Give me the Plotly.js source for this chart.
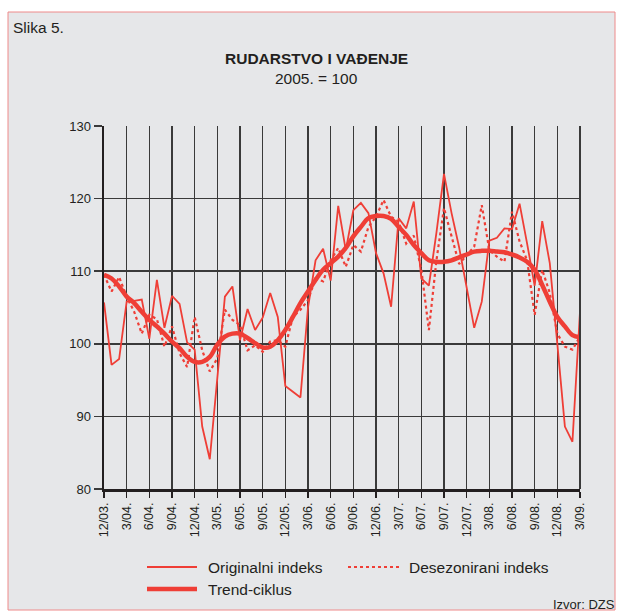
<!DOCTYPE html>
<html>
<head>
<meta charset="utf-8">
<script src="https://cdn.plot.ly/plotly-3.0.1.min.js"></script>
<style>
  body { margin: 0; background: #ffffff; }
  #chart { width: 620px; height: 612px; }
</style>
</head>
<body>
<div id="chart"></div>
<script>
// monthly, 12/03 .. 3/09
var months = [
  "12/03",
  "1/04","2/04","3/04","4/04","5/04","6/04","7/04","8/04","9/04","10/04","11/04","12/04",
  "1/05","2/05","3/05","4/05","5/05","6/05","7/05","8/05","9/05","10/05","11/05","12/05",
  "1/06","2/06","3/06","4/06","5/06","6/06","7/06","8/06","9/06","10/06","11/06","12/06",
  "1/07","2/07","3/07","4/07","5/07","6/07","7/07","8/07","9/07","10/07","11/07","12/07",
  "1/08","2/08","3/08","4/08","5/08","6/08","7/08","8/08","9/08","10/08","11/08","12/08",
  "1/09","2/09","3/09"
];

var tickMonths = ["12/03","3/04","6/04","9/04","12/04","3/05","6/05","9/05","12/05","3/06","6/06",
  "9/06","12/06","3/07","6/07","9/07","12/07","3/08","6/08","9/08","12/08","3/09"];

var originalni = [
  105.7, 97.1, 97.9, 105.8, 105.9, 106.1, 100.7, 108.8, 102.2, 106.6, 105.5, 100.2,
  99.2, 88.6, 84.1, 95.5, 106.5, 107.9, 100.5, 104.8, 101.9, 103.6, 107.0, 103.7,
  94.2, 93.4, 92.6, 105.0, 111.5, 113.1, 108.7, 119.0, 112.9, 118.4, 119.4, 118.0,
  112.5, 109.7, 105.1, 117.3, 115.9, 119.6, 109.0, 108.0, 115.3, 123.4, 118.0, 113.3,
  107.9, 102.2, 105.8, 114.2, 114.6, 115.9, 115.8, 119.3, 113.8, 108.0, 116.9, 111.1,
  100.0, 88.6, 86.5, 104.4
];

var desezonirani = [
  109.5, 107.2, 109.2, 106.5, 104.4, 101.4, 104.0, 103.4, 99.6, 102.4, 98.7, 96.8,
  103.7, 99.1, 96.2, 98.0, 104.7, 103.3, 102.6, 99.1, 99.8, 98.9, 100.3, 100.5,
  99.6, 103.7, 104.7, 106.0, 109.0, 108.6, 111.5, 113.2, 110.6, 113.6, 112.7, 116.1,
  117.5, 119.8, 117.5, 116.8, 113.8, 114.9, 110.2, 101.9, 111.5, 118.7, 114.8, 111.0,
  112.2, 113.4, 119.1, 112.9, 112.0, 111.3, 118.2, 114.1, 111.5, 104.0, 110.2, 107.0,
  101.4, 99.6, 99.2, 101.0
];

var trend = [
  109.5, 109.0, 107.9, 106.5, 105.6, 104.4, 103.3, 102.4, 101.4, 100.3, 99.4, 98.2,
  97.5, 97.5, 98.2, 99.9, 101.0, 101.4, 101.4, 100.8, 100.1, 99.5, 99.6, 100.5,
  101.9, 103.7, 105.6, 107.2, 108.8, 110.2, 111.1, 112.0, 113.2, 114.8, 116.1, 117.3,
  117.6, 117.6, 117.2, 116.1, 115.0, 113.6, 112.5, 111.5, 111.3, 111.3, 111.5, 111.9,
  112.3, 112.7, 112.8, 112.8, 112.7, 112.6, 112.3, 111.9, 111.3, 110.2, 108.1, 105.8,
  103.7, 102.4, 101.2, 100.9
];

var seriesNames = ["Originalni indeks", "Desezonirani indeks", "Trend-ciklus"];

var red = "#ef3e36";
var W = 620, H = 612;
var M = {l: 104, r: 40, t: 126, b: 123};
var pw = W - M.l - M.r, ph = H - M.t - M.b;
// pixel -> paper helpers for the decorations
function px(x) { return (x - M.l) / pw; }
function py(y) { return (H - M.b - y) / ph; }

var data = [
  {x: months, y: originalni, name: seriesNames[0], mode: "lines",
   line: {color: red, width: 1.8}},
  {x: months, y: desezonirani, name: seriesNames[1], mode: "lines",
   line: {color: red, width: 2.2, dash: "dot"}},
  {x: months, y: trend, name: seriesNames[2], mode: "lines",
   line: {color: red, width: 4.5, shape: "spline"}}
];

var font = {family: "Liberation Sans, Arial, sans-serif", size: 12, color: "#231f20"};

var layout = {
  width: W, height: H,
  margin: M,
  showlegend: false,
  paper_bgcolor: "#ffffff",
  plot_bgcolor: "rgba(0,0,0,0)",
  font: font,
  xaxis: {
    type: "category",
    range: [0, months.length - 1],
    tickvals: tickMonths,
    ticktext: tickMonths.map(function(t) { return t + "."; }),
    tickangle: -90,
    ticks: "outside", ticklen: 6, tickwidth: 1.5, tickcolor: "#231f20",
    showgrid: true, gridcolor: "#3a3a3a", gridwidth: 1.5,
    showline: true, linecolor: "#231f20", linewidth: 2.5,
    tickfont: {size: 12.5}
  },
  yaxis: {
    range: [80, 130],
    tickvals: [80, 90, 100, 110, 120, 130],
    ticks: "outside", ticklen: 8, tickwidth: 1.5, tickcolor: "#3a3a3a",
    showgrid: true, gridcolor: "#3a3a3a", gridwidth: 1.5,
    showline: true, linecolor: "#231f20", linewidth: 2.5,
    zeroline: false,
    tickfont: {size: 13}
  },
  shapes: [
    // grey panel with thin red frame
    {type: "rect", xref: "paper", yref: "paper", layer: "below",
     x0: px(8), x1: px(615), y0: py(610), y1: py(12),
     fillcolor: "#e6e7e9", line: {color: "#ee8a8a", width: 1}},
    // right border of plot
    {type: "line", xref: "paper", yref: "paper", x0: 1, x1: 1, y0: 0, y1: 1,
     line: {color: "#3a3a3a", width: 2}},
    // legend samples
    {type: "line", xref: "paper", yref: "paper", x0: px(147), x1: px(197), y0: py(567), y1: py(567),
     line: {color: red, width: 1.8}},
    {type: "line", xref: "paper", yref: "paper", x0: px(348), x1: px(399), y0: py(567), y1: py(567),
     line: {color: red, width: 2.2, dash: "dot"}},
    {type: "line", xref: "paper", yref: "paper", x0: px(147), x1: px(197), y0: py(589), y1: py(589),
     line: {color: red, width: 4.5}}
  ],
  annotations: [
    {text: "Slika 5.", xref: "paper", yref: "paper", x: px(11), y: py(28),
     xanchor: "left", yanchor: "middle", showarrow: false, font: {size: 15.5}},
    {text: "<b>RUDARSTVO I VAĐENJE</b>", xref: "paper", yref: "paper", x: px(316), y: py(58),
     xanchor: "center", yanchor: "middle", showarrow: false, font: {size: 15.5}},
    {text: "2005. = 100", xref: "paper", yref: "paper", x: px(316), y: py(78),
     xanchor: "center", yanchor: "middle", showarrow: false, font: {size: 15.5}},
    {text: seriesNames[0], xref: "paper", yref: "paper", x: px(206), y: py(567),
     xanchor: "left", yanchor: "middle", showarrow: false, font: {size: 15.5}},
    {text: seriesNames[1], xref: "paper", yref: "paper", x: px(407), y: py(567),
     xanchor: "left", yanchor: "middle", showarrow: false, font: {size: 15.5}},
    {text: seriesNames[2], xref: "paper", yref: "paper", x: px(206), y: py(589),
     xanchor: "left", yanchor: "middle", showarrow: false, font: {size: 15.5}},
    {text: "Izvor: DZS", xref: "paper", yref: "paper", x: px(617), y: py(604),
     xanchor: "right", yanchor: "middle", showarrow: false, font: {size: 13}}
  ]
};

Plotly.newPlot("chart", data, layout, {displayModeBar: false, staticPlot: true});
</script>
</body>
</html>
